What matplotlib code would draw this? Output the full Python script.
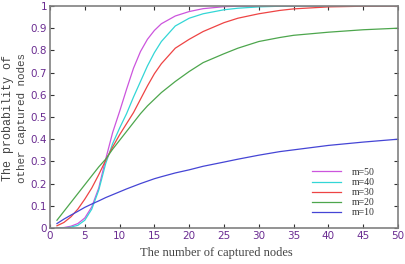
import matplotlib
matplotlib.use("Agg")
import matplotlib.pyplot as plt
import numpy as np

x = [1, 2, 3, 4, 5, 6, 7, 8, 9, 10, 11, 12, 13, 14, 15, 16, 18, 20, 22, 25, 27, 30, 33, 35, 40, 45, 50]
m50 = [0.0, 0.002, 0.008, 0.02, 0.045, 0.095, 0.18, 0.31, 0.43, 0.525, 0.625, 0.72, 0.795, 0.85, 0.89, 0.92, 0.955, 0.975, 0.988, 0.997, 0.999, 1, 1, 1, 1, 1, 1]
m40 = [0.0, 0.0, 0.004, 0.012, 0.035, 0.085, 0.17, 0.29, 0.38, 0.45, 0.515, 0.59, 0.66, 0.73, 0.79, 0.84, 0.91, 0.945, 0.965, 0.983, 0.99, 0.996, 0.999, 1, 1, 1, 1]
m30 = [0.01, 0.025, 0.05, 0.085, 0.13, 0.18, 0.24, 0.305, 0.365, 0.42, 0.47, 0.52, 0.58, 0.64, 0.695, 0.74, 0.81, 0.85, 0.885, 0.925, 0.945, 0.965, 0.98, 0.987, 0.996, 0.999, 1]
m20 = [0.035, 0.075, 0.115, 0.155, 0.195, 0.235, 0.275, 0.31, 0.355, 0.395, 0.435, 0.475, 0.515, 0.55, 0.58, 0.61, 0.66, 0.705, 0.745, 0.785, 0.81, 0.84, 0.858, 0.868, 0.882, 0.893, 0.90]
m10 = [0.02, 0.04, 0.058, 0.075, 0.093, 0.108, 0.122, 0.137, 0.15, 0.163, 0.176, 0.188, 0.2, 0.211, 0.222, 0.231, 0.248, 0.262, 0.278, 0.297, 0.31, 0.328, 0.344, 0.352, 0.372, 0.387, 0.40]

series = [("m=50", m50, "#CC55DD"), ("m=40", m40, "#33D6D6"),
          ("m=30", m30, "#EE4444"), ("m=20", m20, "#4DA64D"),
          ("m=10", m10, "#4545D5")]

fig = plt.figure(figsize=(4.05, 2.64), dpi=100)
ax = fig.add_axes([50/405, 36/264, 348/405, 222/264])

for label, ys, c in series:
    ax.plot(x, ys, color=c, lw=0.9, label=label)

ax.set_xlim(0, 50)
ax.set_ylim(0, 1)
ax.set_xticks(np.arange(0, 51, 5))
ax.set_yticks(np.arange(0, 1.01, 0.1))
ax.set_yticklabels(["0", "0.1", "0.2", "0.3", "0.4", "0.5", "0.6", "0.7", "0.8", "0.9", "1"])
ax.tick_params(direction="in", top=True, right=True, length=3, width=0.8,
               labelsize=7.5, labelcolor="#6A2C91", color="#333333", pad=2)
for s in ax.spines.values():
    s.set_color("#808080")
    s.set_linewidth(1.2)

leg = ax.legend(loc="lower right", frameon=False, handlelength=3.0,
                prop={"family": "Liberation Serif", "size": 7},
                labelspacing=0.12, bbox_to_anchor=(0.945, 0.03), borderaxespad=0,
                handletextpad=1.1)
for t in leg.get_texts():
    t.set_color("#333333")

fig.text(216/405, 11/264, "The number of captured nodes", ha="center", va="center",
         family="Liberation Serif", fontsize=9, color="#444444")
fig.text(8/405, 146/264, "The probability of", rotation=90, ha="center", va="center",
         family="Liberation Mono", fontsize=8.4, color="#444444")
fig.text(22/405, 146/264, "other captured nodes", rotation=90, ha="center", va="center",
         family="Liberation Mono", fontsize=7.8, color="#444444")

fig.savefig("out.png", dpi=100)
